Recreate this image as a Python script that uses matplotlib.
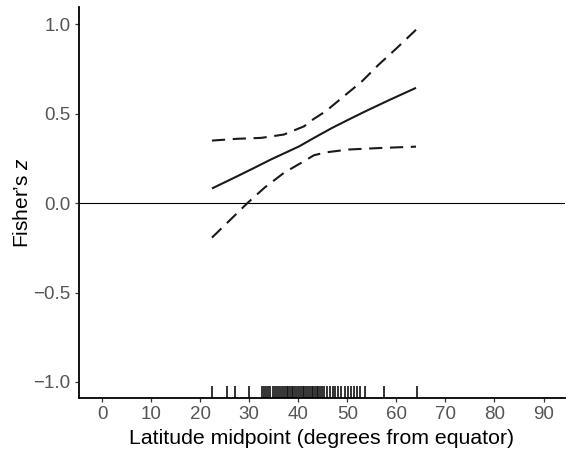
import matplotlib
matplotlib.use("Agg")
import matplotlib.pyplot as plt
import matplotlib.transforms as mtransforms

plt.rcParams['font.family'] = ['Liberation Sans', 'DejaVu Sans']
plt.rcParams['mathtext.fontset'] = 'custom'
plt.rcParams['mathtext.it'] = 'Liberation Sans:italic'
plt.rcParams['mathtext.rm'] = 'Liberation Sans'
plt.rcParams['lines.scale_dashes'] = False

# Fitted line (Fisher's z vs latitude)
lat_fit = [22.4, 27.6, 31.0, 34.4, 37.3, 40.2, 43.2, 46.9, 50.3, 53.7, 58.8, 64.0]
fit = [0.082, 0.151, 0.197, 0.244, 0.281, 0.318, 0.365, 0.421, 0.468, 0.514, 0.580, 0.645]

# Upper confidence band
lat_upper = [22.4, 27.6, 32.4, 37.1, 41.2, 43.2, 45.6, 48.9, 53.0, 56.4, 60.1, 64.0]
upper = [0.350, 0.360, 0.365, 0.384, 0.430, 0.472, 0.514, 0.589, 0.682, 0.775, 0.868, 0.970]

# Lower confidence band
lat_lower = [22.4, 26.0, 29.7, 33.1, 37.1, 41.2, 43.2, 45.6, 50.3, 57.1, 64.0]
lower = [-0.193, -0.097, 0.002, 0.086, 0.170, 0.235, 0.268, 0.284, 0.300, 0.309, 0.316]

# Rug of observed latitudes
rug_lat = [22.4, 25.4, 27.1, 30.0,
           32.6, 33.0, 33.4, 33.9, 34.3, 34.8, 35.2, 35.6, 36.0, 36.4, 36.8,
           37.2, 37.6, 38.0, 38.3, 38.7, 39.0, 39.4, 39.8, 40.1, 40.5, 40.9,
           41.2, 41.6, 42.0, 42.3, 42.7, 43.0, 43.4, 43.8, 44.1, 44.5, 44.9,
           45.3, 45.8, 46.4, 47.0, 47.5, 48.1, 48.8, 49.5, 50.2, 50.8, 51.4,
           52.0, 52.6, 53.5, 57.4, 64.1]

xticks = [0, 10, 20, 30, 40, 50, 60, 70, 80, 90]
yticks = [-1.0, -0.5, 0.0, 0.5, 1.0]

fig = plt.figure(figsize=(5.66, 4.59), dpi=100)
ax = fig.add_axes([0.1396, 0.133, 0.858, 0.852])

ax.axhline(0, color='black', lw=0.8, zorder=1)
ax.plot(lat_fit, fit, color='#1a1a1a', lw=1.5, solid_capstyle='butt')
l1, = ax.plot(lat_upper, upper, color='#1a1a1a', lw=1.5)
l2, = ax.plot(lat_lower, lower, color='#1a1a1a', lw=1.5)
for l in (l1, l2):
    l.set_dashes([9.5, 5.5])
    l.set_dash_capstyle('butt')

trans = mtransforms.blended_transform_factory(ax.transData, ax.transAxes)
ax.vlines(rug_lat, 0, 0.03, transform=trans, color='#111111', lw=1.2)

ax.set_xlim(-4.7, 94.3)
ax.set_ylim(-1.09, 1.098)
ax.set_xticks(xticks)
ax.set_yticks(yticks)
ax.set_yticklabels([f"{v:.1f}".replace('-', '\u2212') for v in yticks])

for s in ('top', 'right'):
    ax.spines[s].set_visible(False)
for s in ('left', 'bottom'):
    ax.spines[s].set_linewidth(1.3)
    ax.spines[s].set_color('black')

ax.tick_params(axis='both', length=3, width=0.9, color='#333333',
               labelsize=13.5, labelcolor='#555555', pad=3)

ax.set_xlabel('Latitude midpoint (degrees from equator)', fontsize=15.3, color='black', labelpad=4)
ax.set_ylabel('Fisher\u2019s $z$', fontsize=15, color='black', labelpad=1)

fig.savefig('out.png', dpi=100)
